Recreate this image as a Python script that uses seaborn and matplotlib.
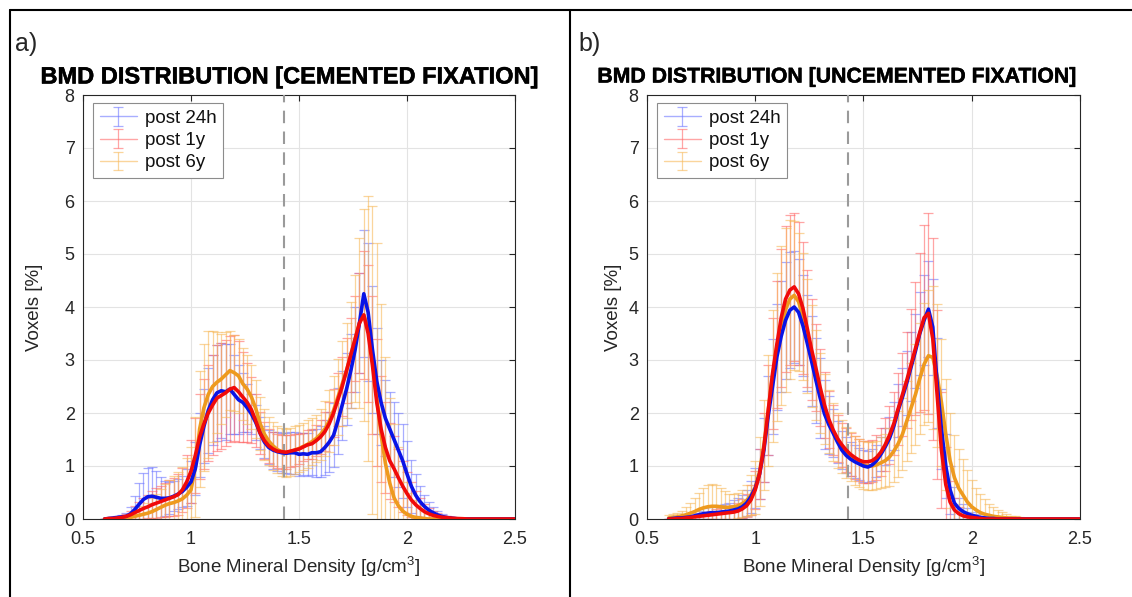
import matplotlib
matplotlib.use("Agg")
import matplotlib.pyplot as plt
from matplotlib.lines import Line2D
import matplotlib.patheffects as pe
import numpy as np
import pandas as pd
import seaborn as sns

# ---------------- data ----------------
bmd = [0.60, 0.62, 0.64, 0.66, 0.68, 0.70, 0.72, 0.74, 0.76, 0.78,
       0.80, 0.82, 0.84, 0.86, 0.88, 0.90, 0.92, 0.94, 0.96, 0.98,
       1.00, 1.02, 1.04, 1.06, 1.08, 1.10, 1.12, 1.14, 1.16, 1.18,
       1.20, 1.22, 1.24, 1.26, 1.28, 1.30, 1.32, 1.34, 1.36, 1.38,
       1.40, 1.42, 1.44, 1.46, 1.48, 1.50, 1.52, 1.54, 1.56, 1.58,
       1.60, 1.62, 1.64, 1.66, 1.68, 1.70, 1.72, 1.74, 1.76, 1.78,
       1.80, 1.82, 1.84, 1.86, 1.88, 1.90, 1.92, 1.94, 1.96, 1.98,
       2.00, 2.02, 2.04, 2.06, 2.08, 2.10, 2.12, 2.14, 2.16, 2.18,
       2.20, 2.22, 2.24, 2.26, 2.28, 2.30, 2.32, 2.34, 2.36, 2.38,
       2.40, 2.42, 2.44, 2.46, 2.48, 2.50]

series_names = ["post 24h", "post 1y", "post 6y"]

# Panel a) cemented fixation -- mean voxel percentage
a_24h = [0.00, 0.01, 0.02, 0.03, 0.04, 0.05, 0.10, 0.18, 0.28, 0.37,
         0.42, 0.43, 0.41, 0.39, 0.39, 0.40, 0.43, 0.47, 0.52, 0.60,
         0.70, 0.95, 1.40, 1.75, 2.05, 2.25, 2.38, 2.42, 2.40, 2.45,
         2.35, 2.25, 2.20, 2.10, 1.98, 1.82, 1.62, 1.45, 1.35, 1.30,
         1.27, 1.25, 1.24, 1.25, 1.25, 1.22, 1.23, 1.22, 1.25, 1.25,
         1.27, 1.35, 1.45, 1.58, 1.85, 2.15, 2.45, 2.80, 3.20, 3.70,
         4.25, 3.90, 3.20, 2.60, 2.20, 1.90, 1.70, 1.50, 1.30, 1.10,
         0.85, 0.62, 0.45, 0.33, 0.24, 0.17, 0.12, 0.08, 0.05, 0.03,
         0.02, 0.01, 0.00, 0.00, 0.00, 0.00, 0.00, 0.00, 0.00, 0.00,
         0.00, 0.00, 0.00, 0.00, 0.00, 0.00]
a_1y = [0.00, 0.01, 0.01, 0.02, 0.03, 0.05, 0.08, 0.12, 0.16, 0.20,
        0.23, 0.27, 0.30, 0.33, 0.36, 0.39, 0.42, 0.46, 0.55, 0.70,
        0.90, 1.20, 1.55, 1.80, 2.00, 2.15, 2.28, 2.33, 2.38, 2.45,
        2.48, 2.40, 2.30, 2.20, 2.06, 1.85, 1.62, 1.48, 1.38, 1.32,
        1.28, 1.27, 1.26, 1.28, 1.30, 1.32, 1.36, 1.40, 1.42, 1.48,
        1.55, 1.65, 1.80, 2.00, 2.25, 2.50, 2.80, 3.10, 3.40, 3.70,
        3.85, 3.50, 2.90, 2.20, 1.70, 1.35, 1.10, 0.95, 0.78, 0.62,
        0.48, 0.36, 0.27, 0.20, 0.14, 0.10, 0.07, 0.05, 0.035, 0.025,
        0.018, 0.012, 0.008, 0.005, 0.00, 0.00, 0.00, 0.00, 0.00, 0.00,
        0.00, 0.00, 0.00, 0.00, 0.00, 0.00]
a_6y = [0.00, 0.00, 0.00, 0.01, 0.01, 0.02, 0.03, 0.05, 0.07, 0.09,
        0.11, 0.14, 0.18, 0.22, 0.26, 0.29, 0.31, 0.34, 0.38, 0.45,
        0.55, 0.98, 1.70, 2.10, 2.35, 2.50, 2.58, 2.64, 2.72, 2.80,
        2.76, 2.70, 2.55, 2.45, 2.30, 2.08, 1.80, 1.60, 1.47, 1.38,
        1.31, 1.27, 1.25, 1.27, 1.30, 1.33, 1.37, 1.41, 1.46, 1.52,
        1.60, 1.70, 1.85, 2.05, 2.30, 2.55, 2.80, 3.10, 3.40, 3.70,
        3.85, 3.60, 3.00, 2.30, 1.60, 1.05, 0.68, 0.40, 0.25, 0.15,
        0.09, 0.05, 0.03, 0.02, 0.01, 0.00, 0.00, 0.00, 0.00, 0.00,
        0.00, 0.00, 0.00, 0.00, 0.00, 0.00, 0.00, 0.00, 0.00, 0.00,
        0.00, 0.00, 0.00, 0.00, 0.00, 0.00]

# Panel a) standard deviations
a_24h_sd = [0.00, 0.01, 0.02, 0.03, 0.04, 0.06, 0.12, 0.25, 0.40, 0.50,
            0.55, 0.55, 0.50, 0.40, 0.33, 0.30, 0.28, 0.28, 0.30, 0.35,
            0.40, 0.50, 0.60, 0.70, 0.80, 0.85, 0.90, 0.90, 0.90, 0.85,
            0.75, 0.65, 0.55, 0.45, 0.38, 0.33, 0.30, 0.30, 0.32, 0.35,
            0.37, 0.38, 0.38, 0.40, 0.40, 0.40, 0.40, 0.40, 0.42, 0.45,
            0.48, 0.52, 0.56, 0.60, 0.62, 0.65, 0.68, 0.70, 0.80, 0.95,
            1.20, 1.30, 1.20, 1.00, 0.80, 0.72, 0.70, 0.70, 0.70, 0.70,
            0.62, 0.50, 0.40, 0.30, 0.22, 0.15, 0.10, 0.07, 0.05, 0.03,
            0.02, 0.01, 0.00, 0.00, 0.00, 0.00, 0.00, 0.00, 0.00, 0.00,
            0.00, 0.00, 0.00, 0.00, 0.00, 0.00]
a_1y_sd = [0.00, 0.01, 0.01, 0.02, 0.03, 0.05, 0.08, 0.12, 0.16, 0.20,
           0.22, 0.25, 0.28, 0.30, 0.32, 0.34, 0.36, 0.38, 0.42, 0.50,
           0.60, 0.70, 0.80, 0.85, 0.90, 0.95, 1.00, 1.00, 1.00, 1.00,
           1.00, 0.95, 0.85, 0.75, 0.62, 0.50, 0.40, 0.35, 0.32, 0.32,
           0.32, 0.32, 0.32, 0.30, 0.30, 0.28, 0.27, 0.27, 0.28, 0.30,
           0.32, 0.36, 0.40, 0.45, 0.50, 0.55, 0.62, 0.70, 0.80, 0.95,
           1.20, 1.30, 1.30, 1.20, 1.00, 0.85, 0.72, 0.62, 0.55, 0.48,
           0.40, 0.33, 0.26, 0.20, 0.15, 0.11, 0.08, 0.06, 0.04, 0.03,
           0.02, 0.015, 0.01, 0.005, 0.00, 0.00, 0.00, 0.00, 0.00, 0.00,
           0.00, 0.00, 0.00, 0.00, 0.00, 0.00]
a_6y_sd = [0.00, 0.00, 0.00, 0.01, 0.02, 0.03, 0.05, 0.08, 0.12, 0.16,
           0.20, 0.25, 0.30, 0.35, 0.40, 0.45, 0.50, 0.55, 0.60, 0.70,
           0.80, 0.95, 1.10, 1.20, 1.20, 1.05, 0.95, 0.85, 0.80, 0.75,
           0.72, 0.70, 0.68, 0.65, 0.60, 0.55, 0.50, 0.48, 0.46, 0.45,
           0.45, 0.45, 0.45, 0.45, 0.45, 0.45, 0.45, 0.45, 0.45, 0.45,
           0.48, 0.52, 0.58, 0.65, 0.72, 0.80, 0.90, 1.00, 1.20, 1.60,
           2.00, 2.50, 2.90, 2.90, 2.46, 2.00, 1.60, 1.40, 1.10, 0.85,
           0.60, 0.45, 0.32, 0.22, 0.15, 0.10, 0.06, 0.04, 0.03, 0.02,
           0.01, 0.00, 0.00, 0.00, 0.00, 0.00, 0.00, 0.00, 0.00, 0.00,
           0.00, 0.00, 0.00, 0.00, 0.00, 0.00]

# Panel b) uncemented fixation -- mean voxel percentage
b_24h = [0.00, 0.01, 0.02, 0.02, 0.03, 0.04, 0.06, 0.08, 0.10, 0.11,
         0.12, 0.12, 0.13, 0.14, 0.15, 0.17, 0.19, 0.23, 0.30, 0.42,
         0.58, 0.85, 1.30, 1.95, 2.50, 3.06, 3.45, 3.75, 3.94, 4.00,
         3.90, 3.65, 3.32, 2.98, 2.62, 2.28, 1.98, 1.78, 1.62, 1.45,
         1.30, 1.20, 1.13, 1.08, 1.04, 1.00, 0.98, 1.02, 1.10, 1.22,
         1.36, 1.52, 1.75, 2.05, 2.30, 2.57, 2.87, 3.17, 3.50, 3.75,
         3.96, 3.62, 2.57, 1.70, 1.00, 0.55, 0.30, 0.20, 0.14, 0.10,
         0.07, 0.05, 0.03, 0.02, 0.01, 0.01, 0.00, 0.00, 0.00, 0.00,
         0.00, 0.00, 0.00, 0.00, 0.00, 0.00, 0.00, 0.00, 0.00, 0.00,
         0.00, 0.00, 0.00, 0.00, 0.00, 0.00]
b_1y = [0.00, 0.00, 0.01, 0.01, 0.02, 0.03, 0.04, 0.05, 0.06, 0.07,
        0.08, 0.09, 0.10, 0.11, 0.12, 0.13, 0.15, 0.19, 0.25, 0.36,
        0.55, 0.85, 1.35, 2.05, 2.75, 3.30, 3.80, 4.15, 4.32, 4.38,
        4.25, 3.98, 3.60, 3.20, 2.85, 2.48, 2.15, 1.88, 1.68, 1.52,
        1.40, 1.30, 1.22, 1.16, 1.11, 1.08, 1.08, 1.10, 1.16, 1.26,
        1.40, 1.58, 1.80, 2.08, 2.35, 2.62, 2.92, 3.22, 3.52, 3.80,
        3.88, 3.40, 2.35, 1.30, 0.65, 0.32, 0.17, 0.10, 0.06, 0.04,
        0.03, 0.02, 0.01, 0.00, 0.00, 0.00, 0.00, 0.00, 0.00, 0.00,
        0.00, 0.00, 0.00, 0.00, 0.00, 0.00, 0.00, 0.00, 0.00, 0.00,
        0.00, 0.00, 0.00, 0.00, 0.00, 0.00]
b_6y = [0.02, 0.03, 0.04, 0.06, 0.08, 0.11, 0.14, 0.18, 0.21, 0.23,
        0.24, 0.24, 0.23, 0.22, 0.22, 0.23, 0.25, 0.29, 0.35, 0.45,
        0.60, 0.90, 1.40, 2.05, 2.70, 3.25, 3.65, 3.95, 4.15, 4.22,
        4.10, 3.82, 3.45, 3.08, 2.72, 2.38, 2.08, 1.84, 1.64, 1.48,
        1.36, 1.26, 1.18, 1.11, 1.06, 1.02, 1.00, 1.00, 1.02, 1.06,
        1.10, 1.17, 1.28, 1.42, 1.60, 1.85, 2.10, 2.35, 2.65, 2.92,
        3.08, 3.05, 2.70, 2.20, 1.60, 1.10, 0.78, 0.58, 0.45, 0.32,
        0.23, 0.17, 0.12, 0.09, 0.07, 0.05, 0.04, 0.03, 0.02, 0.015,
        0.01, 0.01, 0.00, 0.00, 0.00, 0.00, 0.00, 0.00, 0.00, 0.00,
        0.00, 0.00, 0.00, 0.00, 0.00, 0.00]

# Panel b) standard deviations
b_24h_sd = [0.00, 0.01, 0.02, 0.02, 0.03, 0.04, 0.06, 0.08, 0.10, 0.11,
            0.12, 0.13, 0.14, 0.15, 0.16, 0.18, 0.20, 0.22, 0.25, 0.30,
            0.38, 0.48, 0.60, 0.75, 0.90, 1.00, 1.05, 1.10, 1.10, 1.05,
            1.00, 0.95, 0.90, 0.85, 0.80, 0.75, 0.65, 0.55, 0.45, 0.40,
            0.36, 0.34, 0.32, 0.31, 0.30, 0.30, 0.30, 0.30, 0.30, 0.32,
            0.35, 0.40, 0.45, 0.50, 0.55, 0.60, 0.65, 0.70, 0.78, 0.85,
            0.90, 0.90, 0.85, 0.75, 0.60, 0.45, 0.30, 0.20, 0.14, 0.10,
            0.07, 0.05, 0.03, 0.02, 0.01, 0.01, 0.00, 0.00, 0.00, 0.00,
            0.00, 0.00, 0.00, 0.00, 0.00, 0.00, 0.00, 0.00, 0.00, 0.00,
            0.00, 0.00, 0.00, 0.00, 0.00, 0.00]
b_1y_sd = [0.00, 0.00, 0.01, 0.01, 0.02, 0.03, 0.04, 0.05, 0.06, 0.07,
           0.08, 0.09, 0.10, 0.11, 0.12, 0.13, 0.15, 0.18, 0.22, 0.28,
           0.36, 0.48, 0.65, 0.85, 1.05, 1.20, 1.30, 1.38, 1.42, 1.40,
           1.35, 1.25, 1.10, 0.95, 0.82, 0.72, 0.62, 0.54, 0.48, 0.44,
           0.42, 0.41, 0.40, 0.40, 0.40, 0.40, 0.40, 0.40, 0.42, 0.45,
           0.50, 0.55, 0.60, 0.68, 0.78, 0.90, 1.05, 1.25, 1.50, 1.75,
           1.90, 1.90, 1.60, 1.10, 0.70, 0.40, 0.22, 0.13, 0.08, 0.05,
           0.03, 0.02, 0.01, 0.00, 0.00, 0.00, 0.00, 0.00, 0.00, 0.00,
           0.00, 0.00, 0.00, 0.00, 0.00, 0.00, 0.00, 0.00, 0.00, 0.00,
           0.00, 0.00, 0.00, 0.00, 0.00, 0.00]
b_6y_sd = [0.05, 0.06, 0.08, 0.10, 0.14, 0.20, 0.26, 0.32, 0.38, 0.42,
           0.42, 0.40, 0.36, 0.30, 0.26, 0.24, 0.24, 0.26, 0.30, 0.38,
           0.50, 0.65, 0.85, 1.05, 1.25, 1.40, 1.50, 1.55, 1.50, 1.40,
           1.30, 1.20, 1.08, 0.96, 0.85, 0.75, 0.66, 0.60, 0.55, 0.52,
           0.50, 0.48, 0.47, 0.46, 0.45, 0.45, 0.45, 0.45, 0.46, 0.48,
           0.50, 0.54, 0.58, 0.62, 0.68, 0.75, 0.85, 0.95, 1.05, 1.15,
           1.25, 1.35, 1.35, 1.20, 1.05, 0.90, 0.80, 0.75, 0.68, 0.60,
           0.50, 0.42, 0.35, 0.28, 0.22, 0.17, 0.13, 0.10, 0.07, 0.05,
           0.04, 0.03, 0.02, 0.01, 0.01, 0.00, 0.00, 0.00, 0.00, 0.00,
           0.00, 0.00, 0.00, 0.00, 0.00, 0.00]

x_ticks = [0.5, 1, 1.5, 2, 2.5]
x_ticklabels = ["0.5", "1", "1.5", "2", "2.5"]
y_ticks = [0, 1, 2, 3, 4, 5, 6, 7, 8]
threshold = 1.43

titles = ["BMD DISTRIBUTION [CEMENTED FIXATION]",
          "BMD DISTRIBUTION [UNCEMENTED FIXATION]"]
panel_tags = ["a)", "b)"]

# ---------------- style ----------------
sns.set_theme(style="whitegrid")
plt.rcParams["font.family"] = ["Liberation Sans", "DejaVu Sans"]
plt.rcParams["mathtext.fontset"] = "custom"
plt.rcParams["mathtext.rm"] = "Liberation Sans"
plt.rcParams["mathtext.it"] = "Liberation Sans"

line_colors = ["#0A14E6", "#F00A0A", "#EE9A1E"]
bar_colors = ["#6F78FF", "#FF6A6A", "#F7B95A"]
axis_gray = "#262626"

W, H = 1132, 597
fig = plt.figure(figsize=(W / 100, H / 100), dpi=100)
fig.patch.set_facecolor("white")

axA = fig.add_axes([83 / W, 1 - 519 / H, 432 / W, 424 / H])
axB = fig.add_axes([647 / W, 1 - 519 / H, 433 / W, 424 / H])

panels = [
    (axA, [a_24h, a_1y, a_6y], [a_24h_sd, a_1y_sd, a_6y_sd], (35 - 83) / 432),
    (axB, [b_24h, b_1y, b_6y], [b_24h_sd, b_1y_sd, b_6y_sd], (614 - 647) / 433),
]

for ax, means, sds, ylab_x in panels:
    ax.set_facecolor("white")
    ax.grid(True, color="#e3e3e3", linewidth=0.8)
    ax.set_axisbelow(True)
    # error bars (semi-transparent)
    for name, m, s, bc in zip(series_names, means, sds, bar_colors):
        ax.errorbar(bmd, m, yerr=s, color=bc, lw=1.0, elinewidth=0.9,
                    capsize=3.5, capthick=0.9, alpha=0.6, label=name, zorder=2)
    df = pd.DataFrame({"bmd": bmd, "post 24h": means[0],
                       "post 1y": means[1], "post 6y": means[2]})
    for idx in [2, 0, 1]:
        sns.lineplot(data=df, x="bmd", y=series_names[idx], color=line_colors[idx],
                     linewidth=2.6, ax=ax, legend=False, errorbar=None, zorder=4)
    ax.axvline(threshold, color="#9a9a9a", ls=(0, (6, 4)), lw=1.5, zorder=3)

    ax.set_xlim(0.5, 2.5)
    ax.set_ylim(0, 8)
    ax.set_xticks(x_ticks)
    ax.set_xticklabels(x_ticklabels)
    ax.set_yticks(y_ticks)
    ax.tick_params(direction="in", top=True, right=True, length=4, width=0.8,
                   color=axis_gray, labelsize=13, labelcolor=axis_gray)
    ax.tick_params(axis="x", pad=9)
    ax.tick_params(axis="y", pad=6)
    for sp in ax.spines.values():
        sp.set_visible(True)
        sp.set_color(axis_gray)
        sp.set_linewidth(0.8)
    ax.set_xlabel(r"Bone Mineral Density [g/cm$^{\mathregular{3}}$]", fontsize=13.5,
                  color=axis_gray)
    ax.xaxis.set_label_coords(0.5, (519 - 567) / 424)
    ax.xaxis.label.set_va("center")
    ax.set_ylabel("Voxels [%]", fontsize=13.5, color=axis_gray)
    ax.yaxis.set_label_coords(ylab_x, 0.5)
    ax.yaxis.label.set_va("center")
    leg = ax.legend(loc="upper left", bbox_to_anchor=(10 / 432, (519 - 103) / 424),
                    borderaxespad=0, fontsize=13.5,
                    frameon=True, fancybox=False, framealpha=1, edgecolor="#8c8c8c",
                    handlelength=2.0, labelspacing=0.28, borderpad=0.35,
                    handletextpad=0.4)
    leg.get_frame().set_linewidth(0.8)
    for t in leg.get_texts():
        t.set_color("#111111")

# titles and panel tags
heavy = [pe.withStroke(linewidth=0.35, foreground="black")]
fig.text(290 / W, 1 - 77 / H, titles[0], ha="center", va="center",
         fontsize=17, fontweight="bold", color="black", path_effects=heavy)
fig.text(836 / W, 1 - 77 / H, titles[1], ha="center", va="center",
         fontsize=15.3, fontweight="bold", color="black", path_effects=heavy)
fig.text(15 / W, 1 - 44 / H, panel_tags[0], ha="left", va="center", fontsize=18)
fig.text(578 / W, 1 - 44 / H, panel_tags[1], ha="left", va="center", fontsize=18)

# panel frame lines
top_y = 1 - 10 / H
fig.add_artist(Line2D([10 / W, 1], [top_y, top_y], transform=fig.transFigure,
                      color="black", lw=1.5))
fig.add_artist(Line2D([10 / W, 10 / W], [0, top_y], transform=fig.transFigure,
                      color="black", lw=1.5))
fig.add_artist(Line2D([570 / W, 570 / W], [0, top_y], transform=fig.transFigure,
                      color="black", lw=1.5))

fig.savefig("out.png", dpi=100, facecolor="white")
